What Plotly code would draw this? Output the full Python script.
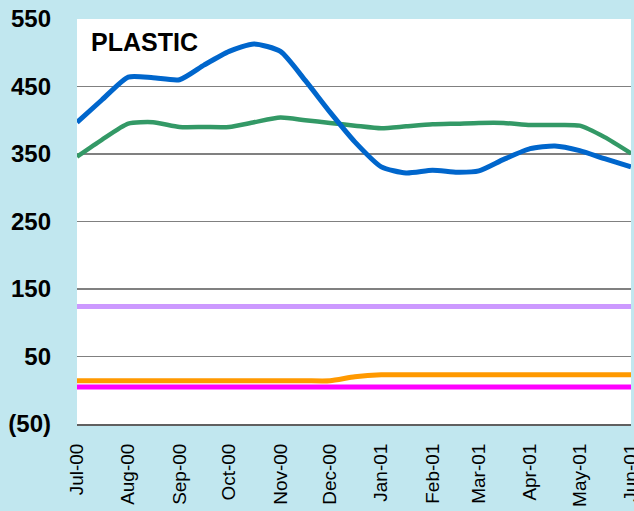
import plotly.graph_objects as go

dates = [
    "2000-07-01", "2000-07-16", "2000-08-01", "2000-08-16", "2000-09-01", "2000-09-16",
    "2000-10-01", "2000-10-16", "2000-11-01", "2000-11-16", "2000-12-01", "2000-12-16",
    "2001-01-01", "2001-01-16", "2001-02-01", "2001-02-16", "2001-03-01", "2001-03-16",
    "2001-04-01", "2001-04-16", "2001-05-01", "2001-05-16", "2001-06-01",
]
blue_vals = [397, 430, 464, 463, 460, 482, 502, 513, 502, 459, 412, 368,
             331, 322, 326, 323, 325, 342, 358, 362, 355, 343, 331]
green_vals = [346, 371, 395, 397, 390, 390, 390, 397, 404, 400, 396, 392,
              388, 391, 394, 395, 396, 396, 393, 393, 392, 375, 351]
purple_vals = [124] * 23
orange_vals = [14] * 11 + [20] + [23] * 11
magenta_vals = [5] * 23

y_ticks = [-50, 50, 150, 250, 350, 450, 550]
y_labels = ["(50)", "50", "150", "250", "350", "450", "550"]

series = [
    (purple_vals, "#CC99FF", 5),
    (orange_vals, "#FF9900", 5),
    (magenta_vals, "#FF00FF", 5),
    (green_vals, "#339966", 4.5),
    (blue_vals, "#0066CC", 5),
]

fig = go.Figure()
for vals, color, w in series:
    fig.add_trace(go.Scatter(
        x=dates, y=vals, mode="lines",
        line=dict(color=color, width=w, shape="spline", smoothing=0.6),
        showlegend=False, hoverinfo="skip",
    ))

fig.add_annotation(
    text="<b>PLASTIC</b>", xref="paper", yref="paper", x=0.022, y=0.942,
    xanchor="left", yanchor="middle", showarrow=False,
    font=dict(family="Liberation Sans, Arial", size=25, color="black"),
)

fig.update_layout(
    width=634, height=511,
    margin=dict(l=77, r=3, t=19, b=87),
    paper_bgcolor="#C1E7EF",
    plot_bgcolor="white",
    font=dict(family="Liberation Sans, Arial", color="black"),
    xaxis=dict(
        type="date", range=["2000-07-01", "2001-06-01"],
        dtick="M1", tick0="2000-07-01", tickformat="%b-%y",
        tickangle=-90, tickfont=dict(size=19),
        showgrid=False, showline=True, linecolor="#606060", linewidth=2,
        ticks="", ticklabelstandoff=10, automargin=False,
        ticklabeloverflow="allow",
    ),
    yaxis=dict(
        range=[-50, 550], tickvals=y_ticks, ticktext=y_labels,
        tickfont=dict(size=24, family="Liberation Sans, Arial", weight="bold"),
        showgrid=True, gridcolor="#808080", gridwidth=1.5,
        zeroline=False, showline=False, ticks="",
        ticklabelstandoff=25, automargin=False,
    ),
)

fig.write_html(
    "out.html",
    config={"displayModeBar": False, "staticPlot": True},
    post_script="document.body.style.margin='0';document.body.style.overflow='hidden';",
)
